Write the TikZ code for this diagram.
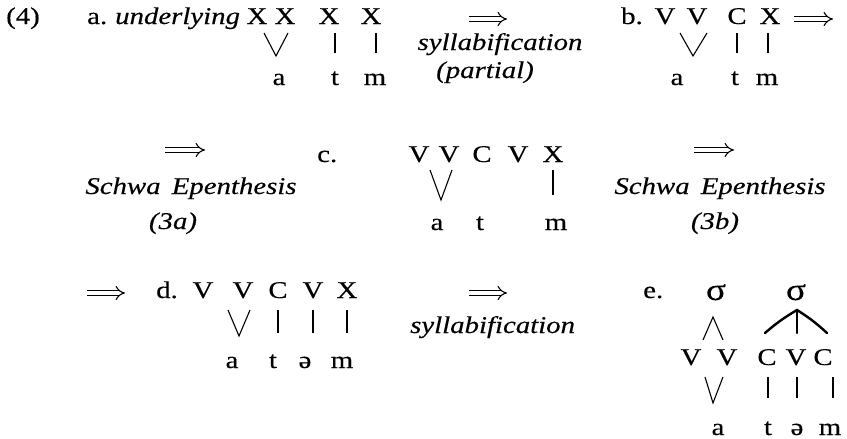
\documentclass[tikz,border=0pt]{standalone}
\usepackage{fontspec}
\setmainfont{Liberation Serif}[FakeStretch=1.2, FakeBold=0.3]
\usetikzlibrary{arrows.meta}
\newcommand\fs{\fontsize{24}{28}\selectfont}
\newcommand\fsig{\fontsize{31}{34}\selectfont}
\tikzset{
  txt/.style={inner sep=0pt, anchor=base, font=\fs},
  txtw/.style={txt, anchor=base west},
  itx/.style={txt, font=\fs\itshape},
  itxw/.style={itx, anchor=base west},
  sig/.style={txt, font=\fsig},
  conn/.style={line width=1.1pt},
  rooft/.style={line width=2.4pt, line cap=round},
  arrowst/.style={double, double distance=3.8pt, line width=1.1pt, -{Implies}},
}
\begin{document}
\begin{tikzpicture}[x=1pt,y=-1pt]
\useasboundingbox (0,0) rectangle (847,439);
% ---------- row 1 : a ----------
\node[txtw] (p4) at (6,24) {(4)};
\node[txtw] (la) at (87,24) {a.};
\node[itxw] (und) at (115,24) {underlying};
\node[txt] (ax1) at (257,24) {X};
\node[txt] (ax2) at (285,24) {X};
\node[txt] (ax3) at (329,24) {X};
\node[txt] (ax4) at (371,24) {X};
\coordinate (av1) at (264,33); \coordinate (av2) at (276,56); \coordinate (av3) at (288,33);
\draw[conn] (av1) -- (av2) -- (av3);
\coordinate (ab1t) at (335,33); \coordinate (ab1b) at (335,53);
\coordinate (ab2t) at (376,33); \coordinate (ab2b) at (376,53);
\draw[conn] (ab1t) -- (ab1b);
\draw[conn] (ab2t) -- (ab2b);
\node[txt] (aa) at (279,85) {a};
\node[txt] (at) at (335,85) {t};
\node[txt] (am) at (375,85) {m};
\coordinate (ar1s) at (469,19); \coordinate (ar1e) at (507,19);
\draw[arrowst] (ar1s) -- (ar1e);
\node[itx] (syl1) at (500,50) {syllabification};
\node[itx] (part) at (485,78) {(partial)};
% ---------- row 1 : b ----------
\node[txtw] (lb) at (621,24) {b.};
\node[txt] (bx1) at (665,24) {V};
\node[txt] (bx2) at (697,24) {V};
\node[txt] (bx3) at (737,24) {C};
\node[txt] (bx4) at (770,24) {X};
\coordinate (bv1) at (680,33); \coordinate (bv2) at (693,56); \coordinate (bv3) at (707,33);
\draw[conn] (bv1) -- (bv2) -- (bv3);
\coordinate (bb1t) at (737,33); \coordinate (bb1b) at (737,53);
\coordinate (bb2t) at (768,33); \coordinate (bb2b) at (768,53);
\draw[conn] (bb1t) -- (bb1b);
\draw[conn] (bb2t) -- (bb2b);
\node[txt] (ba) at (677,85) {a};
\node[txt] (bt) at (735,85) {t};
\node[txt] (bm) at (767,85) {m};
\coordinate (ar2s) at (794,19); \coordinate (ar2e) at (833,19);
\draw[arrowst] (ar2s) -- (ar2e);
% ---------- row 2 : c ----------
\coordinate (ar3s) at (165,150); \coordinate (ar3e) at (205,150);
\draw[arrowst] (ar3s) -- (ar3e);
\node[itx] (sch1) at (191,194) {Schwa\hspace{4pt} Epenthesis};
\node[itx] (p3a) at (173,229) {(3a)};
\node[txtw] (lc) at (317,162) {c.};
\node[txt] (cx1) at (419,162) {V};
\node[txt] (cx2) at (449,162) {V};
\node[txt] (cx3) at (482,162) {C};
\node[txt] (cx4) at (518,162) {V};
\node[txt] (cx5) at (553,162) {X};
\coordinate (cv1) at (430,170); \coordinate (cv2) at (441,200); \coordinate (cv3) at (452,170);
\draw[conn] (cv1) -- (cv2) -- (cv3);
\coordinate (cb1t) at (553,170); \coordinate (cb1b) at (553,195);
\draw[conn] (cb1t) -- (cb1b);
\node[txt] (ca) at (437,230) {a};
\node[txt] (ct) at (480,230) {t};
\node[txt] (cm) at (556,230) {m};
\coordinate (ar4s) at (694,150); \coordinate (ar4e) at (734,150);
\draw[arrowst] (ar4s) -- (ar4e);
\node[itx] (sch2) at (720,194) {Schwa\hspace{4pt} Epenthesis};
\node[itx] (p3b) at (715,229) {(3b)};
% ---------- row 3 : d ----------
\coordinate (ar5s) at (87,293); \coordinate (ar5e) at (125,293);
\draw[arrowst] (ar5s) -- (ar5e);
\node[txtw] (ld) at (156,298) {d.};
\node[txt] (dx1) at (203,298) {V};
\node[txt] (dx2) at (243,298) {V};
\node[txt] (dx3) at (278,298) {C};
\node[txt] (dx4) at (313,298) {V};
\node[txt] (dx5) at (347,298) {X};
\coordinate (dv1) at (228,310); \coordinate (dv2) at (239,336); \coordinate (dv3) at (250,310);
\draw[conn] (dv1) -- (dv2) -- (dv3);
\coordinate (db1t) at (278,310); \coordinate (db1b) at (278,333);
\coordinate (db2t) at (313,310); \coordinate (db2b) at (313,333);
\coordinate (db3t) at (347,310); \coordinate (db3b) at (347,333);
\draw[conn] (db1t) -- (db1b);
\draw[conn] (db2t) -- (db2b);
\draw[conn] (db3t) -- (db3b);
\node[txt] (da) at (232,368) {a};
\node[txt] (dt) at (273,368) {t};
\node[txt] (ds) at (305,368) {ə};
\node[txt] (dm) at (342,368) {m};
\coordinate (ar6s) at (469,293); \coordinate (ar6e) at (507,293);
\draw[arrowst] (ar6s) -- (ar6e);
\node[itxw] (syl2) at (410,333) {syllabification};
% ---------- row 3 : e ----------
\node[txtw] (le) at (643,298) {e.};
\node[sig] (es1) at (716,300) {σ};
\node[sig] (es2) at (796,300) {σ};
\coordinate (el1) at (703,340); \coordinate (el2) at (713,317); \coordinate (el3) at (723,340);
\draw[conn] (el1) -- (el2) -- (el3);
\coordinate (er1) at (765,333); \coordinate (er2) at (797,310); \coordinate (er3) at (827,333); \coordinate (er4) at (797,333);
\draw[rooft] (er1) to[bend left=5] (er2) to[bend left=5] (er3);
\draw[rooft] (er2) -- (er4);
\node[txt] (ex1) at (691,365) {V};
\node[txt] (ex2) at (727,365) {V};
\node[txt] (ex3) at (767,365) {C};
\node[txt] (ex4) at (796,365) {V};
\node[txt] (ex5) at (823,365) {C};
\coordinate (ev1) at (705,377); \coordinate (ev2) at (713,403); \coordinate (ev3) at (723,377);
\draw[conn] (ev1) -- (ev2) -- (ev3);
\coordinate (eb1t) at (768,377); \coordinate (eb1b) at (768,398);
\coordinate (eb2t) at (797,377); \coordinate (eb2b) at (797,398);
\coordinate (eb3t) at (833,377); \coordinate (eb3b) at (833,398);
\draw[conn] (eb1t) -- (eb1b);
\draw[conn] (eb2t) -- (eb2b);
\draw[conn] (eb3t) -- (eb3b);
\node[txt] (ea) at (718,435) {a};
\node[txt] (et) at (768,435) {t};
\node[txt] (es) at (797,435) {ə};
\node[txt] (em) at (830,435) {m};
\end{tikzpicture}
\end{document}
